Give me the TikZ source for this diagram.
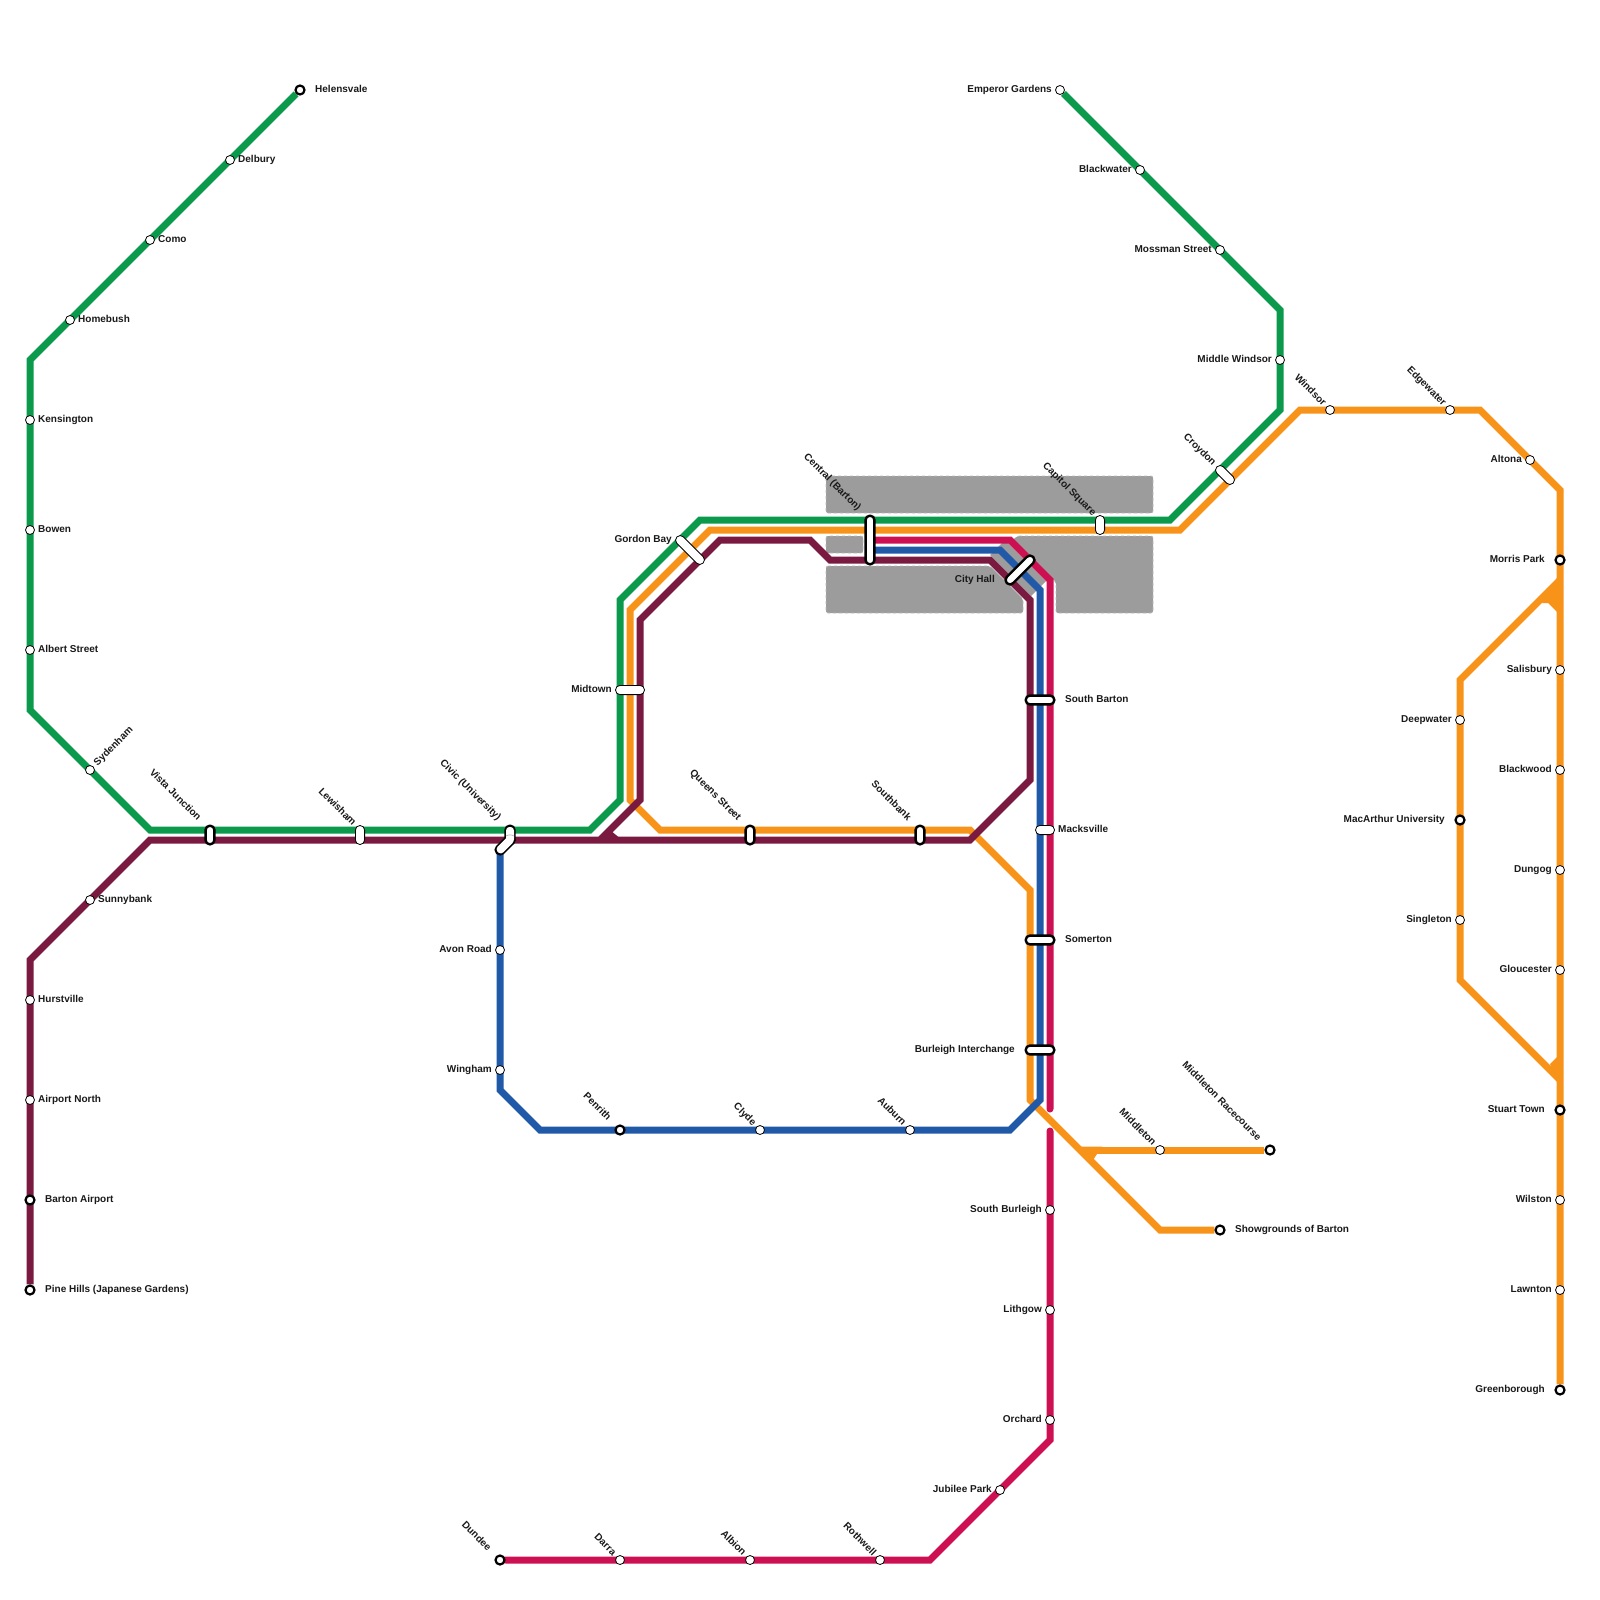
\documentclass[tikz,border=0pt]{standalone}
\usepackage{fontspec}
\setmainfont{Liberation Sans}
\usetikzlibrary{backgrounds}
\definecolor{linegreen}{HTML}{0B9A4C}
\definecolor{lineorange}{HTML}{F8931A}
\definecolor{linepurple}{HTML}{7A1A40}
\definecolor{lineblue}{HTML}{1F59A8}
\definecolor{linepink}{HTML}{CC1052}
\definecolor{zonegrey}{HTML}{9C9C9C}
\begin{document}
\begin{tikzpicture}[x=1pt, y=-1pt,
  route/.style={line width=7pt},
  stn/.style={circle, draw=black, fill=white, inner sep=0pt, minimum size=9pt, line width=.8pt},
  bigstn/.style={stn, minimum size=9pt, line width=2.2pt},
  pill/.style={rectangle, draw=black, fill=white, inner sep=0pt, rounded corners=4.5pt,
    minimum height=9.2pt, line width=.8pt},
  bigpill/.style={pill, rounded corners=4.2pt, minimum height=8.8pt, line width=2.4pt},
  pillfill/.style={rectangle, fill=white, inner sep=0pt, rounded corners=3.5pt, minimum height=8pt},
  zone/.style={fill=zonegrey, draw=zonegrey!70, dashed, line width=.6pt, rounded corners=2pt},
  lbl/.style={font=\fontsize{10}{12}\selectfont\bfseries, inner sep=0pt, text height=7.3pt, text depth=1.7pt, text=black!90},
  rt/.style={lbl, anchor=west, shift={(8,0)}},
  rtfar/.style={lbl, anchor=west, shift={(15,0)}},
  lf/.style={lbl, anchor=east, shift={(-8,0)}},
  lffar/.style={lbl, anchor=east, shift={(-15,0)}},
  ne/.style={lbl, anchor=west, shift={(5.6,-5.6)}, rotate=45},
  nw/.style={lbl, anchor=east, shift={(-5.6,-5.6)}, rotate=-45},
  nwfar/.style={lbl, anchor=east, shift={(-10.6,-10.6)}, rotate=-45}]
\useasboundingbox (0,0) rectangle (1600,1600);
% green line stations
\node[bigstn] (helensvale) at (300,90) {};
\node[rtfar] (helensvalel) at (helensvale) {Helensvale};
\node[stn] (delbury) at (230,160) {};
\node[rt] (delburyl) at (delbury) {Delbury};
\node[stn] (como) at (150,240) {};
\node[rt] (comol) at (como) {Como};
\node[stn] (homebush) at (70,320) {};
\node[rt] (homebushl) at (homebush) {Homebush};
\node[stn] (kensington) at (30,420) {};
\node[rt] (kensingtonl) at (kensington) {Kensington};
\node[stn] (bowen) at (30,530) {};
\node[rt] (bowenl) at (bowen) {Bowen};
\node[stn] (albert) at (30,650) {};
\node[rt] (albertl) at (albert) {Albert Street};
\node[stn] (sydenham) at (90,770) {};
\node[ne] (sydenhaml) at (sydenham) {Sydenham};
\node[stn] (emperor) at (1060,90) {};
\node[lf] (emperorl) at (emperor) {Emperor Gardens};
\node[stn] (blackwater) at (1140,170) {};
\node[lf] (blackwaterl) at (blackwater) {Blackwater};
\node[stn] (mossman) at (1220,250) {};
\node[lf] (mossmanl) at (mossman) {Mossman Street};
\node[stn] (midwindsor) at (1280,360) {};
\node[lf] (midwindsorl) at (midwindsor) {Middle Windsor};
% purple line stations
\node[stn] (sunnybank) at (90,900) {};
\node[rt] (sunnybankl) at (sunnybank) {Sunnybank};
\node[stn] (hurstville) at (30,1000) {};
\node[rt] (hurstvillel) at (hurstville) {Hurstville};
\node[stn] (airport) at (30,1100) {};
\node[rt] (airportl) at (airport) {Airport North};
\node[bigstn] (bartonair) at (30,1200) {};
\node[rtfar] (bartonairl) at (bartonair) {Barton Airport};
\node[bigstn] (pinehills) at (30,1290) {};
\node[rtfar] (pinehillsl) at (pinehills) {Pine Hills (Japanese Gardens)};
% blue line stations
\node[stn] (avon) at (500,950) {};
\node[lf] (avonl) at (avon) {Avon Road};
\node[stn] (wingham) at (500,1070) {};
\node[lf] (winghaml) at (wingham) {Wingham};
\node[bigstn] (penrith) at (620,1130) {};
\node[nwfar] (penrithl) at (penrith) {Penrith};
\node[stn] (clyde) at (760,1130) {};
\node[nw] (clydel) at (clyde) {Clyde};
\node[stn] (auburn) at (910,1130) {};
\node[nw] (auburnl) at (auburn) {Auburn};
% pink line stations
\node[bigstn] (dundee) at (500,1560) {};
\node[nwfar] (dundeel) at (dundee) {Dundee};
\node[stn] (darra) at (620,1560) {};
\node[nw] (darral) at (darra) {Darra};
\node[stn] (albion) at (750,1560) {};
\node[nw] (albionl) at (albion) {Albion};
\node[stn] (rothwell) at (880,1560) {};
\node[nw] (rothwelll) at (rothwell) {Rothwell};
\node[stn] (jubilee) at (1000,1490) {};
\node[lf] (jubileel) at (jubilee) {Jubilee Park};
\node[stn] (orchard) at (1050,1420) {};
\node[lf] (orchardl) at (orchard) {Orchard};
\node[stn] (lithgow) at (1050,1310) {};
\node[lf] (lithgowl) at (lithgow) {Lithgow};
\node[stn] (sburleigh) at (1050,1210) {};
\node[lf] (sburleighl) at (sburleigh) {South Burleigh};
% orange line stations
\node[stn] (windsor) at (1330,410) {};
\node[nw] (windsorl) at (windsor) {Windsor};
\node[stn] (edgewater) at (1450,410) {};
\node[nw] (edgewaterl) at (edgewater) {Edgewater};
\node[stn] (altona) at (1530,460) {};
\node[lf] (altonal) at (altona) {Altona};
\node[bigstn] (morris) at (1560,560) {};
\node[lffar] (morrisl) at (morris) {Morris Park};
\node[stn] (salisbury) at (1560,670) {};
\node[lf] (salisburyl) at (salisbury) {Salisbury};
\node[stn] (blackwood) at (1560,770) {};
\node[lf] (blackwoodl) at (blackwood) {Blackwood};
\node[stn] (dungog) at (1560,870) {};
\node[lf] (dungogl) at (dungog) {Dungog};
\node[stn] (gloucester) at (1560,970) {};
\node[lf] (gloucesterl) at (gloucester) {Gloucester};
\node[bigstn] (stuart) at (1560,1110) {};
\node[lffar] (stuartl) at (stuart) {Stuart Town};
\node[stn] (wilston) at (1560,1200) {};
\node[lf] (wilstonl) at (wilston) {Wilston};
\node[stn] (lawnton) at (1560,1290) {};
\node[lf] (lawntonl) at (lawnton) {Lawnton};
\node[bigstn] (greenborough) at (1560,1390) {};
\node[lffar] (greenboroughl) at (greenborough) {Greenborough};
\node[stn] (deepwater) at (1460,720) {};
\node[lf] (deepwaterl) at (deepwater) {Deepwater};
\node[bigstn] (macarthur) at (1460,820) {};
\node[lffar] (macarthurl) at (macarthur) {MacArthur University};
\node[stn] (singleton) at (1460,920) {};
\node[lf] (singletonl) at (singleton) {Singleton};
\node[stn] (middleton) at (1160,1150) {};
\node[nw] (middletonl) at (middleton) {Middleton};
\node[bigstn] (racecourse) at (1270,1150) {};
\node[nwfar] (racecoursel) at (racecourse) {Middleton Racecourse};
\node[bigstn] (showgrounds) at (1220,1230) {};
\node[rtfar] (showgroundsl) at (showgrounds) {Showgrounds of Barton};
% interchanges
\node[bigpill, minimum width=18.6pt, rotate=90] (vista) at (210,835) {};
\node[nwfar] (vistal) at (210,830) {Vista Junction};
\node[pill, minimum width=19pt, rotate=90] (lewisham) at (360,835) {};
\node[nw] (lewishaml) at (360,830) {Lewisham};
\node[bigpill, minimum width=18.6pt, rotate=90] (civica) at (510,835) {};
\node[bigpill, minimum width=22.5pt, rotate=45] (civicb) at (505,845) {};
\node[pillfill, minimum width=16pt, rotate=90] (civicc) at (510,835) {};
\node[pillfill, minimum width=20pt, rotate=45] (civicd) at (505,845) {};
\draw[black!35, line width=.6pt] (506,836) .. controls (508,834.5) and (512,834.5) .. (514,836);
\node[nwfar] (civicl) at (510,830) {Civic (University)};
\node[pill, minimum width=37pt, rotate=-45] (gordon) at (690,550) {};
\node[lf] (gordonl) at (680,540) {Gordon Bay};
\node[pill, minimum width=29pt] (midtown) at (630,690) {};
\node[lf] (midtownl) at (620,690) {Midtown};
\node[bigpill, minimum width=18.6pt, rotate=90] (queens) at (750,835) {};
\node[nwfar] (queensl) at (750,830) {Queens Street};
\node[bigpill, minimum width=18.6pt, rotate=90] (southbank) at (920,835) {};
\node[nwfar] (southbankl) at (920,830) {Southbank};
\node[bigpill, minimum width=48.6pt, rotate=90] (central) at (870,540) {};
\node[nwfar] (centrall) at (870,520) {Central (Barton)};
\node[pill, minimum width=19pt, rotate=90] (capitol) at (1100,525) {};
\node[nw] (capitoll) at (1100,520) {Capitol Square};
\node[pill, minimum width=23pt, rotate=-45] (croydon) at (1225,475) {};
\node[nw] (croydonl) at (1220,470) {Croydon};
\node[bigpill, minimum width=37pt, rotate=45] (cityhall) at (1020,570) {};
\node[lffar] (cityhalll) at (1010,580) {City Hall};
\node[bigpill, minimum width=28.6pt] (sbarton) at (1040,700) {};
\node[rtfar] (sbartonl) at (1050,700) {South Barton};
\node[pill, minimum width=19pt] (macksville) at (1045,830) {};
\node[rt] (macksvillel) at (1050,830) {Macksville};
\node[bigpill, minimum width=28.6pt] (somerton) at (1040,940) {};
\node[rtfar] (somertonl) at (1050,940) {Somerton};
\node[bigpill, minimum width=28.6pt] (burleigh) at (1040,1050) {};
\node[lffar] (burleighl) at (1030,1050) {Burleigh Interchange};
% bends
\coordinate (g1) at (30,360); \coordinate (g2) at (30,710); \coordinate (g3) at (150,830);
\coordinate (g4) at (590,830); \coordinate (g5) at (620,800); \coordinate (g6) at (620,600);
\coordinate (g7) at (700,520); \coordinate (g8) at (1170,520); \coordinate (g9) at (1280,410);
\coordinate (g10) at (1280,310);
\coordinate (o1) at (1560,490); \coordinate (o2) at (1480,410); \coordinate (o3) at (1300,410);
\coordinate (o4) at (1180,530); \coordinate (o5) at (710,530); \coordinate (o6) at (630,610);
\coordinate (o7) at (630,800); \coordinate (o8) at (660,830); \coordinate (o9) at (970,830);
\coordinate (o10) at (1030,890); \coordinate (o11) at (1030,1100); \coordinate (o12) at (1160,1230);
\coordinate (o13) at (1080,1150); \coordinate (o14) at (1560,580); \coordinate (o15) at (1460,680);
\coordinate (o16) at (1460,980); \coordinate (o17) at (1560,1080);
\coordinate (p1) at (30,960); \coordinate (p2) at (150,840); \coordinate (p3) at (970,840);
\coordinate (p4) at (1030,780); \coordinate (p5) at (1030,600); \coordinate (p6) at (990,560);
\coordinate (p7) at (830,560); \coordinate (p8) at (810,540); \coordinate (p9) at (720,540);
\coordinate (p10) at (640,620); \coordinate (p11) at (640,800); \coordinate (p12) at (600,840);
\coordinate (b0) at (500,850); \coordinate (b1) at (500,1090); \coordinate (b2) at (540,1130);
\coordinate (b3) at (1010,1130); \coordinate (b4) at (1040,1100); \coordinate (b5) at (1040,590);
\coordinate (b6) at (1000,550); \coordinate (b7) at (870,550);
\coordinate (k1) at (930,1560); \coordinate (k2) at (1050,1440); \coordinate (k3) at (1050,1131);
\coordinate (k4) at (1050,1109); \coordinate (k5) at (1050,580); \coordinate (k6) at (1010,540);
\coordinate (k7) at (870,540);
\begin{scope}[on background layer]
% grey blocks
\draw[zone] (826,476) rectangle (1153,513);
\draw[zone] (826,536) rectangle (863,553);
\draw[zone] (826,566) -- (990,566) -- (1023,599) -- (1023,613) -- (826,613) -- cycle;
\draw[zone] (1017,536) -- (1153,536) -- (1153,613) -- (1056,613) -- (1056,582) -- (1012,541) -- cycle;
\fill[zonegrey] (1005,540) -- (1046,581) -- (1031,596) -- (990,555) -- cycle;
% lines
\draw[route, linegreen] (helensvale) -- (g1) -- (g2) -- (g3) -- (g4) -- (g5) -- (g6) -- (g7) -- (g8) -- (g9) -- (g10) -- (emperor);
\draw[route, lineorange] (greenborough) -- (o1) -- (o2) -- (o3) -- (o4) -- (o5) -- (o6) -- (o7) -- (o8) -- (o9) -- (o10) -- (o11) -- (o12) -- (showgrounds);
\draw[route, lineorange] (o13) -- (racecourse);
\draw[route, lineorange] (o14) -- (o15) -- (o16) -- (o17);
\fill[lineorange] (1080,1146.5) -- (1102,1146.5) -- (1093,1160) -- cycle;
\fill[lineorange] (1557,578) -- (1557,612) -- (1548,603) -- (1542,603) -- cycle;
\fill[lineorange] (1550,1064) -- (1557,1057) -- (1557,1080) -- cycle;
\draw[route, lineblue] (b0) -- (b1) -- (b2) -- (b3) -- (b4) -- (b5) -- (b6) -- (b7);
\draw[route, linepurple] (pinehills) -- (p1) -- (p2) -- (p3) -- (p4) -- (p5) -- (p6) -- (p7) -- (p8) -- (p9) -- (p10) -- (p11) -- (p12);
\fill[linepurple] (610,830) -- (622,840) -- (600,840) -- cycle;
\draw[route, linepink, line cap=round] (dundee) -- (k1) -- (k2) -- (k3);
\draw[route, linepink, line cap=round] (k4) -- (k5) -- (k6) -- (k7);
\end{scope}
\end{tikzpicture}
\end{document}
